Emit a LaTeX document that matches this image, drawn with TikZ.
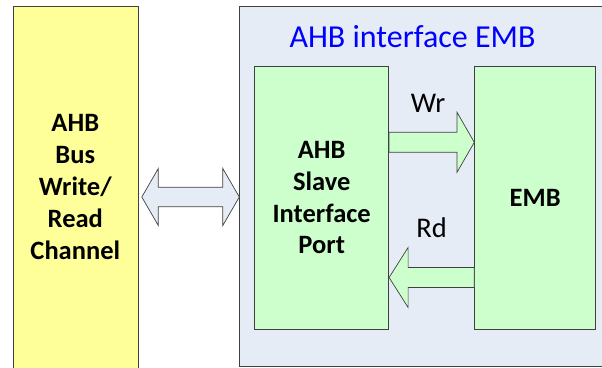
\documentclass[tikz,border=0pt]{standalone}
\usepackage{fontspec}
\setmainfont{Carlito}
\usetikzlibrary{calc}
\definecolor{busyellow}{HTML}{FFFF99}
\definecolor{blockgreen}{HTML}{CCFFCC}
\definecolor{panelblue}{HTML}{E6ECF6}
\definecolor{titleblue}{HTML}{0000FF}
\definecolor{edgegray}{HTML}{404040}
\begin{document}
\begin{tikzpicture}[x=1pt,y=-1pt,
  box/.style={draw=edgegray, line width=0.8pt, anchor=north west, inner sep=0pt},
  blocktext/.style={font=\fontsize{26.5}{31.8}\selectfont\bfseries, align=center},
  flow/.style={draw=edgegray, line width=0.7pt, line join=miter},
  sig/.style={font=\fontsize{28.5}{32}\selectfont}]
\useasboundingbox (0,0) rectangle (602,367);
\clip (0,0) rectangle (602,367);
\fill[white] (0,0) rectangle (602,367);

% bus channel on the left
\node[box, fill=busyellow, minimum width=124.7pt, minimum height=380pt] (bus) at (13,6.3) {};
\node[blocktext] (bustext) at (75.3,187) {AHB\\Bus\\Write/\\Read\\Channel};

% EMB interface panel
\node[box, fill=panelblue, minimum width=380pt, minimum height=359.7pt] (panel) at (239.3,6.3) {};
\node[font=\fontsize{32}{38}\selectfont, text=titleblue, inner sep=0pt] (title) at (412.5,37) {AHB interface EMB};

\node[box, fill=blockgreen, minimum width=134pt, minimum height=263.3pt, blocktext] (slave) at (254.3,65.7) {AHB\\Slave\\Interface\\Port};
\node[box, fill=blockgreen, minimum width=121pt, minimum height=263.3pt, blocktext] (emb) at (474.3,65.7) {EMB};

% write path
\coordinate (wrtail) at (slave.east |- 0,142.3);
\coordinate (wrtip) at (emb.west |- 0,142.3);
\draw[flow, fill=blockgreen] ($(wrtail)+(0,-10)$) -- ($(wrtip)+(-17.3,-10)$) -- ($(wrtip)+(-17.3,-30)$) -- (wrtip)
  -- ($(wrtip)+(-17.3,30)$) -- ($(wrtip)+(-17.3,10)$) -- ($(wrtail)+(0,10)$) -- cycle;
\node[sig] (wr) at (428,103) {Wr};

% read path
\coordinate (rdtail) at (emb.west |- 0,277.5);
\coordinate (rdtip) at (slave.east |- 0,277.5);
\draw[flow, fill=blockgreen] ($(rdtail)+(0,-10)$) -- ($(rdtip)+(19,-10)$) -- ($(rdtip)+(19,-30)$) -- (rdtip)
  -- ($(rdtip)+(19,30)$) -- ($(rdtip)+(19,10)$) -- ($(rdtail)+(0,10)$) -- cycle;
\node[sig] (rd) at (431.7,228) {Rd};

% bidirectional bus link
\coordinate (dl) at ($(bus.east |- 0,197)+(3.3,0)$);
\coordinate (dr) at (panel.west |- 0,197);
\draw[flow, fill=panelblue] (dl) -- ($(dl)+(16.5,-28.5)$) -- ($(dl)+(16.5,-9.7)$) -- ($(dr)+(-16.5,-9.7)$)
  -- ($(dr)+(-16.5,-28.5)$) -- (dr) -- ($(dr)+(-16.5,28.5)$) -- ($(dr)+(-16.5,9.7)$)
  -- ($(dl)+(16.5,9.7)$) -- ($(dl)+(16.5,28.5)$) -- cycle;
\end{tikzpicture}
\end{document}
